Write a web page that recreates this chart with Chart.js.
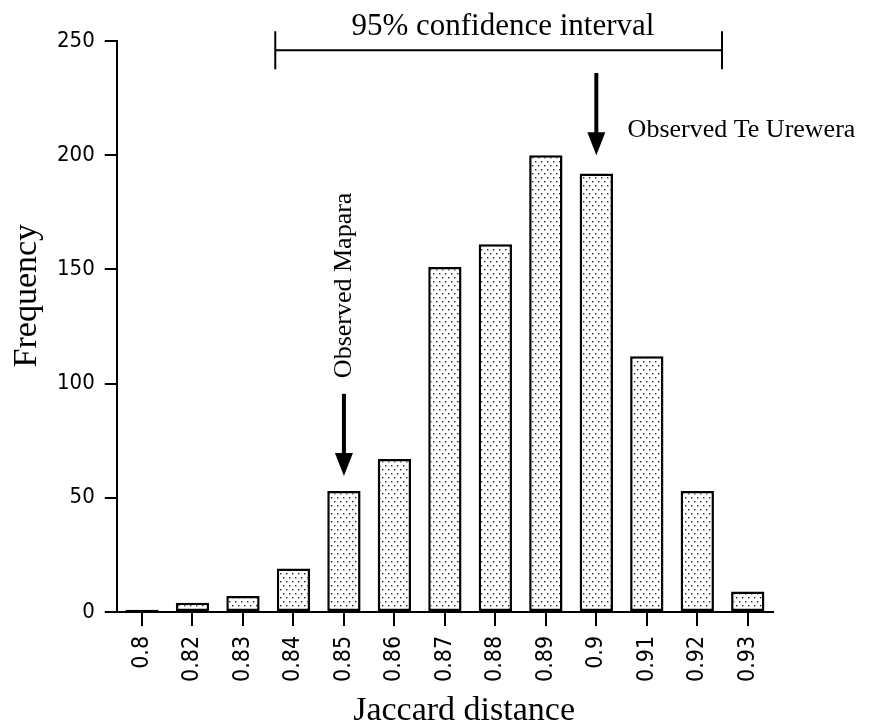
<!DOCTYPE html>
<html>
<head>
<meta charset="utf-8">
<script src="https://cdn.jsdelivr.net/npm/chart.js@4.4.1/dist/chart.umd.min.js"></script>
<style>
  html, body { margin: 0; padding: 0; background: #ffffff; }
  #wrap { width: 877px; height: 723px; }
</style>
</head>
<body>
<div id="wrap"><canvas id="hist" width="877" height="723"></canvas></div>
<script>
// Histogram of Jaccard distances (randomisation test)
const distances = ['0.8', '0.82', '0.83', '0.84', '0.85', '0.86', '0.87', '0.88', '0.89', '0.9', '0.91', '0.92', '0.93'];
const frequencies = [1, 4, 7, 19, 53, 67, 151, 161, 200, 192, 112, 53, 9];
const yTicks = [0, 50, 100, 150, 200, 250];

// Annotation anchors, in axis units (category index / frequency)
const ciFrom = 2.64;
const ciTo = 11.49;
const ciLevel = 246;
const maparaIndex = 4;     // 0.85
const ureweraIndex = 9;    // 0.9

const serif = '"Liberation Serif", "Times New Roman", serif';
const narrow = '"Liberation Sans Narrow", "DejaVu Sans Condensed", "Liberation Sans", sans-serif';

// dotted fill like the original stipple
function stipple() {
    const c = document.createElement('canvas');
    c.width = 6;
    c.height = 8;
    const g = c.getContext('2d');
    g.fillStyle = '#ffffff';
    g.fillRect(0, 0, 6, 8);
    g.fillStyle = '#222222';
    g.fillRect(1, 1, 1.4, 1.4);
    g.fillRect(4, 5, 1.4, 1.4);
    return document.getElementById('hist').getContext('2d').createPattern(c, 'repeat');
}

function arrow(ctx, x, y1, y2) {
    ctx.save();
    ctx.strokeStyle = '#000';
    ctx.fillStyle = '#000';
    ctx.lineWidth = 4;
    ctx.beginPath();
    ctx.moveTo(x, y1);
    ctx.lineTo(x, y2 - 20);
    ctx.stroke();
    ctx.beginPath();
    ctx.moveTo(x - 9, y2 - 23);
    ctx.lineTo(x + 9, y2 - 23);
    ctx.lineTo(x, y2);
    ctx.closePath();
    ctx.fill();
    ctx.restore();
}

const annotations = {
    id: 'annotations',
    afterDraw(chart) {
        const ctx = chart.ctx;
        const xs = chart.scales.x;
        const ys = chart.scales.y;
        ctx.save();
        ctx.fillStyle = '#000';
        ctx.strokeStyle = '#000';

        // 95% confidence interval bracket
        const left = xs.getPixelForValue(ciFrom);
        const right = xs.getPixelForValue(ciTo);
        const yc = ys.getPixelForValue(ciLevel);
        ctx.lineWidth = 2;
        ctx.beginPath();
        ctx.moveTo(left, yc);
        ctx.lineTo(right, yc);
        ctx.moveTo(left, yc - 19);
        ctx.lineTo(left, yc + 19);
        ctx.moveTo(right, yc - 19);
        ctx.lineTo(right, yc + 19);
        ctx.stroke();
        ctx.font = '31px ' + serif;
        ctx.textAlign = 'center';
        ctx.textBaseline = 'alphabetic';
        ctx.fillText('95% confidence interval', xs.getPixelForValue(7.15), ys.getPixelForValue(252.5));

        // observed values
        const ux = xs.getPixelForValue(ureweraIndex);
        arrow(ctx, ux, ys.getPixelForValue(236), ys.getPixelForValue(200));
        ctx.font = '26px ' + serif;
        ctx.textAlign = 'left';
        ctx.fillText('Observed Te Urewera', xs.getPixelForValue(9.62), ys.getPixelForValue(208));

        const mx = xs.getPixelForValue(maparaIndex);
        arrow(ctx, mx, ys.getPixelForValue(95.5), ys.getPixelForValue(59.5));
        ctx.save();
        ctx.translate(xs.getPixelForValue(4.14), ys.getPixelForValue(143));
        ctx.rotate(-Math.PI / 2);
        ctx.textAlign = 'center';
        ctx.fillText('Observed Mapara', 0, 0);
        ctx.restore();

        // axis titles
        ctx.font = '34px ' + serif;
        ctx.save();
        ctx.translate(chart.chartArea.left - 81, ys.getPixelForValue(138.5));
        ctx.rotate(-Math.PI / 2);
        ctx.textAlign = 'center';
        ctx.fillText('Frequency', 0, 0);
        ctx.restore();
        ctx.textAlign = 'center';
        ctx.fillText('Jaccard distance', xs.getPixelForValue(6.38), chart.height - 3);

        ctx.restore();
    }
};

const ctx = document.getElementById('hist').getContext('2d');
new Chart(ctx, {
    type: 'bar',
    data: {
        labels: distances,
        datasets: [
            {
                label: 'Frequency',
                data: frequencies,
                backgroundColor: stipple(),
                borderColor: '#000000',
                borderWidth: 2.5,
                borderSkipped: false,
                barPercentage: 0.66,
                categoryPercentage: 1.0,
            },
        ],
    },
    options: {
        responsive: false,
        animation: false,
        layout: {
            padding: { left: 47, right: 104, top: 41, bottom: 31 },
        },
        plugins: {
            legend: { display: false },
            tooltip: { enabled: false },
        },
        scales: {
            x: {
                offset: true,
                grid: {
                    offset: false,
                    drawOnChartArea: false,
                    drawTicks: true,
                    tickLength: 14,
                    color: '#000000',
                    lineWidth: 2,
                },
                border: { display: true, color: '#000000', width: 2 },
                ticks: {
                    minRotation: 90,
                    maxRotation: 90,
                    padding: 10,
                    color: '#000000',
                    font: { family: narrow, size: 23 },
                },
            },
            y: {
                min: 0,
                max: 250,
                afterBuildTicks: (scale) => {
                    scale.ticks = yTicks.map(v => ({ value: v }));
                },
                grid: {
                    drawOnChartArea: false,
                    drawTicks: true,
                    tickLength: 12,
                    color: '#000000',
                    lineWidth: 2,
                },
                border: { display: true, color: '#000000', width: 2 },
                ticks: {
                    padding: 10,
                    color: '#000000',
                    font: { family: narrow, size: 22 },
                },
            },
        },
    },
    plugins: [annotations],
});
</script>
</body>
</html>
